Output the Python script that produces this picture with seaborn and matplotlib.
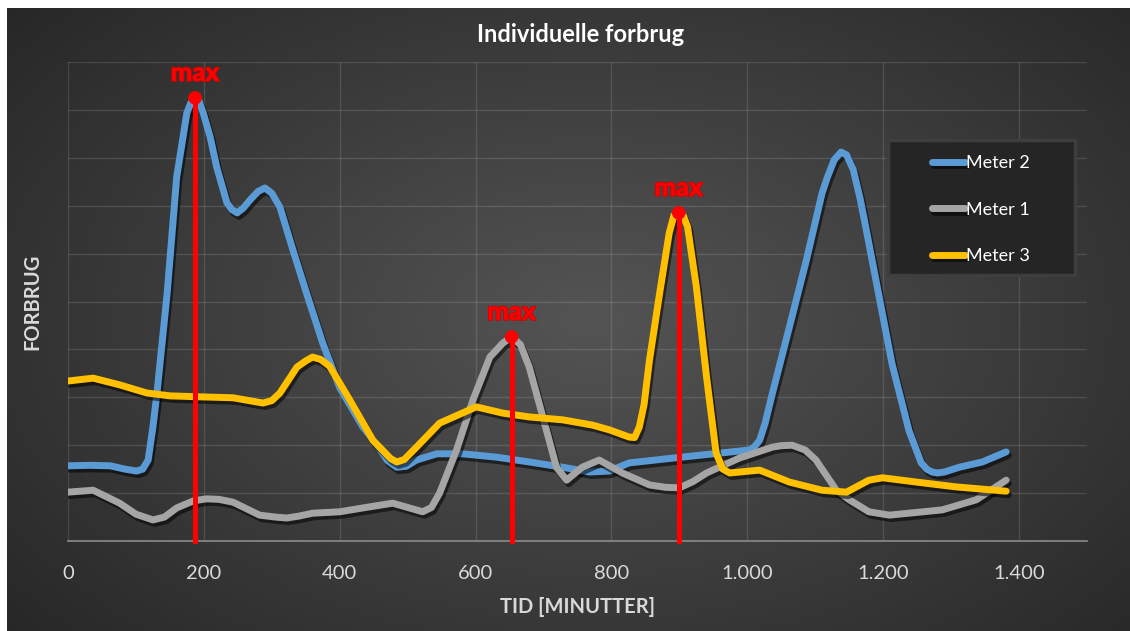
import numpy as np
import matplotlib
matplotlib.use("Agg")
import matplotlib.pyplot as plt
import matplotlib.patheffects as pe
from matplotlib.colors import LinearSegmentedColormap
from matplotlib.patches import Rectangle
import seaborn as sns

# values (x = minutes, y = consumption in grid units)
meter2_min = [0, 32, 62, 84, 101, 110, 118, 125, 131, 146, 160, 175, 181, 187, 193,
              199, 209, 219, 234, 241, 249, 258, 268, 280, 290, 300, 312, 331, 351,
              375, 400, 434, 459, 470, 484, 498, 513, 543, 581, 631, 679, 728, 768,
              797, 826, 890, 963, 1003, 1010, 1018, 1026, 1037, 1062, 1087, 1110,
              1118, 1128, 1138, 1146, 1156, 1166, 1175, 1194, 1213, 1238, 1256, 1264,
              1272, 1280, 1290, 1312, 1346, 1381]
meter2_val = [15.7, 15.8, 15.7, 15.0, 14.6, 15.0, 16.9, 23.8, 30.9, 51.8, 76.0, 89.4,
              91.5, 92.5, 91.8, 89.4, 84.5, 78.0, 70.6, 69.2, 68.5, 69.5, 71.2, 73.0,
              73.7, 72.6, 69.7, 60.8, 51.8, 41.3, 32.0, 23.8, 19.2, 16.8, 15.4, 15.6,
              16.9, 18.2, 18.2, 17.5, 16.5, 15.4, 14.4, 14.6, 16.3, 17.3, 18.4, 19.0,
              19.6, 21.0, 24.5, 30.9, 44.7, 58.7, 72.6, 76.0, 79.6, 81.2, 80.6, 77.5,
              71.5, 65.0, 51.0, 37.0, 23.0, 16.3, 15.0, 14.4, 14.2, 14.4, 15.4, 16.5,
              18.6]

meter1_min = [0, 37, 76, 100, 125, 142, 160, 185, 204, 222, 243, 282, 305, 322, 340,
              360, 400, 434, 478, 522, 535, 547, 572, 596, 621, 640, 653, 666, 679,
              699, 719, 734, 757, 782, 816, 856, 880, 900, 920, 940, 988, 1037, 1050,
              1066, 1085, 1101, 1131, 1150, 1179, 1209, 1287, 1337, 1381]
meter1_val = [10.2, 10.6, 7.9, 5.6, 4.4, 5.0, 6.9, 8.4, 8.8, 8.7, 8.1, 5.4, 5.0, 4.8,
              5.2, 5.8, 6.1, 6.9, 7.9, 6.1, 7.0, 10.0, 19.0, 29.4, 38.4, 41.3, 42.6,
              41.0, 36.3, 25.9, 15.4, 12.7, 15.4, 16.9, 14.2, 11.7, 11.2, 11.1, 12.4,
              14.2, 17.3, 19.6, 19.9, 20.0, 19.0, 16.9, 10.6, 8.6, 6.1, 5.4, 6.5, 8.6,
              12.7]

meter3_min = [0, 37, 76, 116, 150, 194, 243, 287, 300, 312, 337, 350, 360, 372, 385,
              415, 449, 475, 484, 495, 513, 547, 601, 640, 679, 728, 772, 797, 826,
              834, 841, 848, 856, 871, 885, 892, 899, 906, 912, 925, 940, 954, 964,
              974, 1018, 1062, 1110, 1146, 1179, 1199, 1249, 1307, 1381]
meter3_val = [33.4, 34.0, 32.6, 30.9, 30.3, 30.1, 29.9, 28.8, 29.3, 30.9, 36.3, 37.6,
              38.4, 37.9, 36.5, 29.4, 21.0, 17.2, 16.5, 17.0, 19.6, 24.6, 28.0, 26.7,
              25.9, 25.3, 24.2, 23.2, 21.7, 21.6, 23.8, 28.5, 37.8, 51.8, 64.3, 68.0,
              68.5, 67.8, 65.6, 53.0, 34.2, 18.4, 15.0, 14.2, 14.8, 12.3, 10.6, 10.2,
              12.7, 13.2, 12.3, 11.3, 10.4]

series_names = ["Meter 2", "Meter 1", "Meter 3"]
series_data = {
    "Meter 2": (meter2_min, meter2_val),
    "Meter 1": (meter1_min, meter1_val),
    "Meter 3": (meter3_min, meter3_val),
}
colors = {"Meter 2": "#5B9BD5", "Meter 1": "#A5A5A5", "Meter 3": "#FFC000"}
max_series = ["Meter 2", "Meter 1", "Meter 3"]

x_ticks = [0, 200, 400, 600, 800, 1000, 1200, 1400]
x_tick_labels = ["0", "200", "400", "600", "800", "1.000", "1.200", "1.400"]
y_grid = list(range(0, 101, 10))

sns.set_theme(style="dark")
plt.rcParams["font.family"] = ["Lato", "DejaVu Sans"]

fig = plt.figure(figsize=(11.3, 6.31), dpi=100)
fig.patch.set_facecolor("white")

# dark radial gradient background
bg = fig.add_axes([7 / 1130, 0, 1123 / 1130, 623 / 631])
bg.set_zorder(-10)
yy, xx = np.mgrid[0:1:300j, 0:1:540j]
r = np.sqrt(((xx - 0.52) / 0.75) ** 2 + ((yy - 0.5) / 0.85) ** 2)
grad = np.clip(1 - r, 0, 1)
cmap = LinearSegmentedColormap.from_list("bg", ["#232323", "#545454"])
bg.imshow(grad, cmap=cmap, aspect="auto", extent=(0, 1, 0, 1),
          origin="lower", vmin=0, vmax=1)
bg.axis("off")

ax = fig.add_axes([68 / 1130, 90 / 631, 1019 / 1130, 479 / 631])
ax.set_facecolor("none")

shadow = [pe.SimpleLineShadow(offset=(1.5, -2.5), shadow_color="black", alpha=0.55),
          pe.Normal()]

for name in series_names:
    mins, vals = series_data[name]
    sns.lineplot(x=mins, y=vals, color=colors[name], lw=5, label=name, ax=ax,
                 sort=False, solid_capstyle="round", solid_joinstyle="round",
                 path_effects=shadow, zorder=3)

# max markers
for name in max_series:
    mins, vals = series_data[name]
    i = int(np.argmax(vals))
    px, py = mins[i], vals[i]
    ax.vlines(px, 0, py, colors="#FF0000", lw=3.6, zorder=5, capstyle="projecting",
              clip_on=False)
    ax.scatter([px], [py], s=95, color="#FF0000", zorder=6, edgecolors="none")
    ax.annotate("max", (px, py), xytext=(0, 18), textcoords="offset points",
                ha="center", va="center", color="#FF0000", fontsize=18.5,
                fontweight="black", zorder=7,
                path_effects=[pe.withStroke(linewidth=1.2, foreground="#d00000")])

ax.set_xlim(0, 1500)
ax.set_ylim(0, 100)
ax.set_xticks(x_ticks)
ax.set_xticklabels(x_tick_labels)
ax.set_yticks(y_grid)
ax.set_yticklabels([])
ax.tick_params(axis="x", length=0, pad=17, labelsize=14.5, colors="#d9d9d9")
ax.tick_params(axis="y", length=0)
ax.grid(True, color="white", alpha=0.12, lw=1)
for side in ["top", "right", "left"]:
    ax.spines[side].set_visible(False)
ax.spines["bottom"].set_color("#8a8a8a")
ax.spines["bottom"].set_linewidth(1.2)

ax.set_xlabel("TID [MINUTTER]", color="#d9d9d9", fontsize=14.5, fontweight="bold",
              labelpad=11)
ax.set_ylabel("FORBRUG", color="#d9d9d9", fontsize=14.5, fontweight="bold",
              labelpad=15)

fig.text(581 / 1130, 1 - 35 / 631, "Individuelle forbrug", color="white",
         fontsize=17, fontweight="bold", ha="center", va="center")

# legend box
ax.add_patch(Rectangle((0.8047, 0.555), 0.184, 0.282, transform=ax.transAxes,
                       facecolor="#252525", edgecolor="#3e3e3e", lw=2.5, zorder=8))
handles, labels = ax.get_legend_handles_labels()
leg = ax.legend(handles, labels, loc="upper left", bbox_to_anchor=(0.848, 0.806),
                frameon=False, fontsize=13, labelcolor="white", handlelength=1.8,
                handletextpad=0.1, labelspacing=1.7, borderpad=0, borderaxespad=0)
leg.set_zorder(9)

fig.savefig("out.png", dpi=100, facecolor=fig.get_facecolor())
